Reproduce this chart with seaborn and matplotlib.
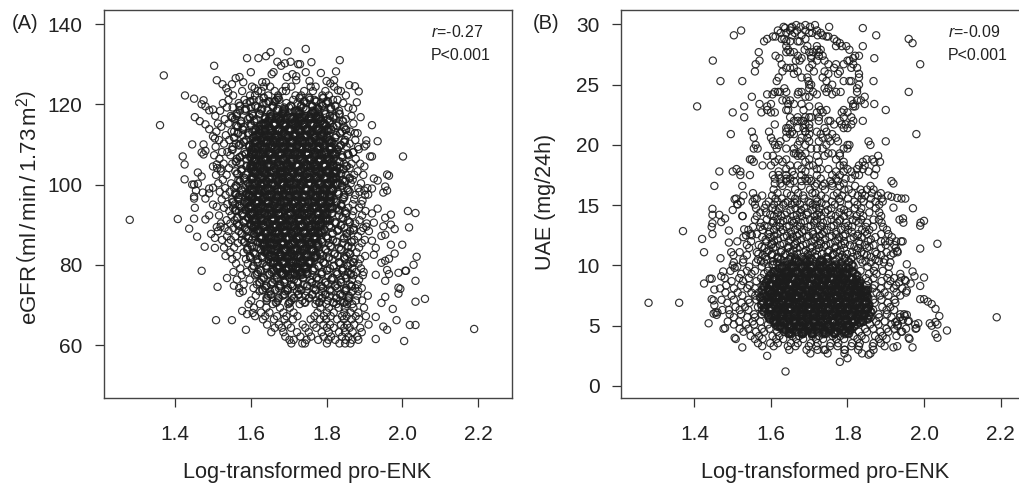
import matplotlib
matplotlib.use("Agg")
import matplotlib.pyplot as plt
import seaborn as sns
import pandas as pd

sns.set_theme(style="white")
plt.rcParams["font.family"] = ["Liberation Sans", "DejaVu Sans"]
plt.rcParams["mathtext.fontset"] = "custom"
plt.rcParams["mathtext.rm"] = "Liberation Sans"
plt.rcParams["mathtext.it"] = "Liberation Sans:italic"

XTICKS = [1.4, 1.6, 1.8, 2.0, 2.2]
EGFR_TICKS = [60, 80, 100, 120, 140]
UAE_TICKS = [0, 5, 10, 15, 20, 25, 30]
XLABEL = "Log-transformed pro-ENK"

# individually read outlying points, panel A
egfr_edge_x = [1.28,1.36,1.37,1.407,1.42,1.425,1.425,1.426,1.437,1.445,1.45,1.452,1.458,1.47,1.478,1.505,1.46,1.47,1.445,1.45,1.46,1.455,1.45,1.45,1.452,1.473,1.48,1.49,1.49,1.50,1.45,1.48,1.49,1.50,1.51,1.495,1.505,1.51,1.52,1.475,1.47,1.48,1.49,1.50,1.48,1.465,1.47,1.475,1.49,1.50,1.505,1.475,1.48,1.50,1.51,1.52,
 1.745,1.697,1.652,1.64,1.62,1.59,1.835,1.67,1.69,1.705,1.68,1.725,1.73,1.76,1.503,1.60,1.745,1.785,1.825,1.655,1.66,1.71,1.695,1.72,1.56,1.57,1.58,1.51,1.525,1.55,1.535,1.54,1.61,1.63,1.64,1.72,1.755,1.80,1.81,1.82,1.86,1.875,1.885,1.83,1.88,1.87,1.89,1.92,1.882,1.875,1.905,1.905,1.935,1.90,1.885,1.87,1.915,1.92,1.90,2.002,1.96,1.965,1.925,1.935,1.955,1.92,1.96,1.95,1.90,1.91,1.895,2.015,2.035,1.935,1.92,1.97,1.955,1.97,1.98,2.018,1.95,1.925,1.905,1.955,1.945,1.92,1.93,1.97,2.0,1.925,1.98,1.965,1.955,1.945,2.038,2.03,2.01,2.008,1.99,1.96,1.965,1.93,1.955,2.035,1.99,1.995,1.99,1.955,1.945,2.035,2.06,1.975,1.985,1.93,2.02,2.035,1.95,1.96,2.19,2.005,1.93,1.55,1.577,1.59,1.605,1.508,1.512,1.537,1.555,1.57,1.587]
egfr_edge_y = [91.2,114.8,127.2,91.4,107,105,101.3,122.2,89,110,121.4,116.8,87,78.5,84.5,84.2,103,102,100,100,100.2,98.5,97,96.5,94.2,98,96.5,99,97.8,99.2,91.5,91.3,92.3,95,94.5,87.7,86.7,89.4,89.5,121,120,119.5,118.5,118.7,115,115.8,108,110,113.8,112,111.5,107.5,108.4,104.5,105,104,
 133.8,133.2,133,132,131.5,131.5,131,130.6,130.2,130.6,129.6,130,130,130.5,129.6,128,128,127.8,128.2,127.5,128,127.5,126.8,127,126.5,126.8,125.5,126,125,125,124,123,124,125.5,125.5,126,125.8,125.8,125.2,126,124.8,124.5,123.2,123.5,120.5,118.9,116.8,114.8,112.8,112.8,111,110,110.8,109.5,108.8,108,107,107,104.5,107,102.5,102.2,101.5,101,99.5,99,98.5,98,98.5,97.5,96,93.4,92.9,94,92.8,92.5,91.7,90,88.9,89.3,89.6,90.5,89.5,87.5,87.2,86,84.2,85,85,82.5,82.8,81.5,81,80.5,82,80,78.5,78.5,78,78.7,77.7,77.5,76,76,74.3,74,72.8,72,70.5,70.8,71.5,69,66.2,67,65,65,64.6,63.8,64,61,61.5,66.2,68.5,67.7,68,66.2,74.5,76.7,74.8,73,63.8]

# rows of pro-ENK (x-1, in thousandths) read at each eGFR level, panel A
egfr_rows = {
 124.4:[603,634,651,692,707,758,771,820],
 123.3:[577,619,628,663,684,693,741,764,797,838],
 122.2:[553,598,611,646,672,718,733,789,806,851],
 121.1:[541,583,607,622,668,675,712,756,768,817,829],
 120.3:[526,568,589,633,641,694,723,747,785,798,844],
 119.2:[537,552,601,618,659,688,701,739,776,812,858],
 118.4:[519,571,584,627,644,669,716,728,763,794,833],
 117.1:[506,547,563,606,653,681,697,744,771,809,824,866],
 116.3:[531,558,592,615,638,674,709,752,781,803,851],
 115.2:[513,541,574,599,631,662,687,726,758,795,832,871],
 114.4:[522,566,581,623,648,691,719,739,774,818,846],
 113.2:[509,549,556,604,637,673,682,733,766,787,841,863],
 112.3:[534,578,594,612,655,699,711,749,782,826,855],
 111.1:[516,543,587,627,643,668,722,737,772,808,849,876],
 110.2:[529,561,573,606,651,678,703,754,790,819,861],
 109.4:[507,552,596,618,664,689,728,761,784,833,853,883],
 108.1:[524,538,583,609,634,695,716,747,799,827,871],
 107.3:[503,546,577,621,657,672,713,768,781,841,858],
 106.4:[517,563,589,603,641,685,731,752,806,819,877],
 105.2:[528,551,572,616,646,694,708,763,792,846,866,889],
 104.1:[511,542,598,627,661,679,738,757,811,834,861],
 103.3:[521,559,575,608,652,691,724,772,798,825,882],
 102.4:[508,536,587,619,636,683,706,744,787,851,873,897],
 101.2:[526,567,581,602,648,674,733,766,818,843,869],
 100.3:[514,548,593,626,659,697,719,753,801,836,864,891],
 99.1:[532,556,585,613,643,688,729,774,795,854,884,908],
 98.2:[518,544,579,607,635,671,712,758,808,829,861,887],
 97.4:[533,562,571,596,654,684,702,741,783,847,876,902],
 96.3:[523,551,567,604,629,666,723,769,793,819,843,873],
 95.1:[538,558,582,617,647,679,711,737,786,838,869,892],
 94.2:[529,553,574,594,638,693,706,762,805,827,858,886],
 93.4:[543,561,569,609,622,668,719,748,779,849,871,903],
 92.3:[516,549,578,601,644,674,697,735,792,833,868,894],
 91.1:[536,557,586,613,656,681,726,771,809,856,887],
 90.3:[521,546,563,599,628,649,703,742,783,824,876,906],
 89.2:[531,554,584,606,661,677,716,756,812,847,871,897],
 88.4:[513,541,568,593,623,657,692,731,778,828,862,891,912],
 87.1:[537,559,588,612,646,683,709,767,799,854,883],
 86.2:[524,547,576,603,639,664,721,753,786,817,873,901],
 85.4:[541,566,597,624,651,688,733,761,806,842,893],
 84.3:[529,556,591,616,642,676,697,748,779,833,866,886],
 83.1:[546,581,607,636,672,703,729,771,803,858,879],
 82.2:[533,563,598,629,663,691,714,758,791,829,853,902],
 81.4:[551,587,618,647,678,697,738,784,816,848,874,889],
 80.3:[561,592,631,659,686,723,752,796,836,863,884],
 79.1:[572,603,641,669,701,711,768,809,844,868,891],
 78.2:[554,589,619,655,677,732,746,788,826,857,878,898],
 77.4:[576,611,644,668,699,721,763,804,849,871,896],
 76.3:[563,597,628,662,691,714,757,779,812,838,867,886],
 75.1:[581,616,653,678,706,739,773,803,829,861,882],
 74.2:[569,607,638,674,698,727,766,791,828,852,876,893],
 73.4:[579,623,651,691,722,747,787,813,848,869,884],
 72.3:[613,646,684,709,744,781,808,842,859,881,909],
 71.1:[601,642,671,707,736,774,803,836,857,878,894],
 70.2:[594,624,658,699,729,771,799,826,854,868],
 69.3:[608,641,677,703,784,806,832,848,871,899],
 68.1:[627,649,686,713,776,801,819,847,863,884],
 67.2:[611,638,669,694,723,768,793,811,841,853,877,904],
 66.4:[632,661,689,711,758,783,799,828,846,866,886],
 65.1:[643,674,697,737,766,792,809,838,854,873,911],
 64.3:[663,682,706,744,773,801,819,847,861,889],
 63.2:[654,686,722,753,787,806,833,849,869,893],
 62.1:[691,731,759,792,812,841,858,881],
 61.3:[702,713,747,778,805,823,851,868,884],
 60.4:[707,736,743,801,834,849,863],
}
# dense part of the cloud
egfr_core_rows = {
 121.6:[634,672,729,754,791],120.7:[598,647,663,741,772,803],119.6:[571,612,658,706,733,762,789,823],118.8:[586,629,671,689,746,778,811],
 117.6:[563,604,623,652,684,728,759,797,834],116.7:[551,597,638,667,704,741,773,818],115.8:[574,609,646,678,716,733,785,808,843],114.7:[562,601,627,661,693,724,766,799,827],
 113.7:[579,613,638,672,706,746,778,812,851],112.8:[566,593,624,652,687,719,757,793,836],111.7:[556,607,633,664,698,731,769,802,823],110.6:[582,611,642,677,709,744,781,814,847],
 109.8:[569,596,626,657,691,722,763,791,838],108.7:[551,603,631,669,703,736,776,809,829],107.6:[586,614,648,682,716,752,787,824,856],106.8:[571,599,636,661,694,729,767,802,842],
 105.7:[561,608,628,673,707,741,779,813,834],104.6:[589,617,643,687,721,758,796,827,853],103.8:[576,602,634,666,699,733,771,806,845],102.7:[564,611,639,678,713,748,784,819,838],
 101.6:[583,606,649,684,724,756,793,826,861],100.8:[571,619,641,671,704,738,778,812,849],99.7:[561,597,627,663,696,731,769,803,841],98.6:[576,609,638,681,712,746,783,817,857],
 97.7:[559,588,621,654,689,723,759,794,832],96.8:[567,603,633,668,701,737,772,808,846],95.6:[552,584,614,646,679,716,751,788,826],94.7:[571,598,628,661,694,728,767,801,839],
 93.6:[559,587,619,651,688,721,757,792,833],92.8:[578,606,637,673,706,741,778,814,852],91.7:[564,593,626,658,691,727,763,799,843],90.6:[581,612,643,679,711,747,786,823,861],
 89.8:[568,601,633,668,698,736,771,808,838],88.7:[588,619,652,687,722,758,794,831,872],87.8:[576,609,641,674,708,743,779,816,853],86.6:[594,627,661,693,729,767,803,846],
 85.7:[583,618,648,682,716,751,789,827,866],84.6:[603,634,669,701,737,776,811,857],83.8:[591,626,654,689,723,761,798,838],82.7:[611,643,677,709,746,783,821,862],
 81.8:[599,631,664,697,731,769,806,847],80.6:[618,652,686,719,754,792,833,871],79.7:[607,641,674,708,741,779,819,856],78.6:[626,661,693,727,764,801,842],
 77.7:[616,649,683,716,749,787,828,864],76.7:[634,669,703,738,774,816,852],75.6:[623,657,689,724,761,797,838],74.7:[641,677,711,749,786,823,866],
 73.7:[631,664,697,733,771,809,851],72.6:[653,689,726,762,797,836],71.7:[642,673,714,754,788,826,858],70.6:[667,702,743,781,818,846],
}
# solid black centre of panel A
egfr_solid_rows = {
 118.1:[687,722,768],116.6:[652,676,709,733,757,781],115.1:[637,663,688,714,739,761,792],113.6:[624,651,674,701,727,748,776,803],
 112.2:[618,644,669,692,716,743,767,789],110.7:[613,637,662,686,709,733,758,784,808],109.2:[608,634,656,683,706,731,752,779,811],107.7:[604,629,653,677,702,726,749,773,797,818],
 106.2:[611,636,659,684,708,734,757,782,806],104.7:[602,627,651,676,699,724,748,771,795,816],103.2:[609,633,658,681,707,729,754,779,803,824],101.7:[604,628,654,678,701,727,751,774,798,819],
 100.2:[607,631,656,683,705,732,756,781,804,827],98.7:[601,624,649,673,698,722,747,772,796,814],97.2:[596,621,646,671,694,719,743,768,791,811],95.7:[593,618,642,667,691,716,739,764,787,809],
 94.2:[597,623,648,672,697,721,746,769,793,813],92.7:[601,626,652,677,702,726,751,776,799],91.2:[606,631,657,681,704,729,753,778,801],89.7:[611,636,661,686,711,734,759,782],
 88.2:[617,642,667,691,716,741,766,787],86.7:[626,651,674,699,723,748,771],85.2:[634,658,683,708,731,757,776],83.7:[641,666,691,714,739,763],
 82.2:[652,677,702,726,748,771],80.7:[661,686,709,733,757],79.2:[671,697,721,746],77.7:[683,708,733],
}

# individually read points, panel B
uae_edge_x = [1.28,1.36,1.37,1.407,1.42,1.425,1.425,1.437,1.445,1.45,1.45,1.452,1.455,1.46,1.465,1.447,1.447,1.447,1.447,1.445,1.47,1.48,1.49,1.49,1.50,1.505,1.512,1.525,1.53,1.535,1.55,1.44,1.445,1.452,1.458,1.468,1.47,1.475,1.48,1.49,1.50,1.505,1.505,1.525,1.59,1.638,1.78,1.80,1.855,1.86,1.97,1.92,1.93,1.96,2.19,2.06,2.035,2.03,2.035,2.03,2.04,2.03,2.02,2.01,2.0,1.99,2.015,2.02,1.98,1.985,1.96,1.955,1.95,1.945,1.93,1.925,1.94,1.955,1.965,1.975,1.99,2.0,2.035,1.99,1.94,1.95,1.935,1.955,1.97,1.99,2.0,1.945,1.92,1.915,1.93,1.94,1.93,1.92,1.91,1.90]
uae_edge_y = [6.9,6.9,12.85,23.2,12.2,11.1,8.5,5.2,8.9,6,7.1,6.7,6.1,6.1,14.2,14.7,14.2,13.5,12.6,13.2,13.6,13.9,12.9,11.9,14.6,15.5,15.1,14.1,13,12.5,12.5,8.9,7.2,8,5.9,10.6,9.1,9.5,4.8,6.3,10,9.8,4,3.2,2.5,1.2,2,2.3,2.6,2.7,3.2,3.2,3.3,4,5.7,4.6,4,4.3,5.1,5.3,5.8,6.4,6.8,7,7.2,7.2,5.2,5,4.8,5.2,5.4,5.9,5.8,5.5,5,5.3,4.5,7.9,8.5,9.1,8.3,9,11.8,11.4,9,8.8,8.6,10.1,9.5,13.3,13.7,13.9,14.8,15.7,15.6,12,11.2,11,12,11.7]

# upper cloud: (y level, pro-ENK x-1 in thousandths)
uae_rows = {
 29.95:[666,690,715],29.8:[633,655,677,702,752],29.7:[637,652,840],29.5:[522,618,650,668,690,720],29.3:[625,640,662,700,708,730],
 29.1:[503,735,875,655,680,722],29.0:[605,612,745,750],28.8:[590,628,635,690,765,960],28.6:[582,640,650,670,772,675],28.45:[970,780],
 28.2:[640,695,720,770,785,797,840],27.9:[645,688,720,730,805],27.7:[568,640,660,650,700,710,725],27.4:[612,670,705,725,735,830,820],
 27.2:[622,680,705,815,870],27.0:[448,570,665,675,720,740,805,800],26.7:[628,560,708,750,790,815,770,990],26.4:[640,650,660,700,765,825,810],
 26.1:[558,630,670,712,740,780],25.9:[660,750,775,830],25.6:[620,680,695,735,830],25.3:[468,525,615,698,745,790,805,868,810],
 25.0:[700,705,760,830],24.7:[635,700,740,825,750],24.4:[610,618,624,640,672,680,710,745,770,960,782,825],24.2:[590,604,670,720,760],
 24.0:[550,700,690,845],23.7:[630,640,650,810,835,825],23.4:[570,600,660,645,680,815,845,870],23.2:[530,590,700,725,820,815],
 22.9:[640,645,685,730,745,790,900,590],22.7:[500,575,600,610,720,735,785,800],22.3:[530,650,700,705,790,810,690,725,670],
 22.0:[660,670,680,685,725,750,780,815,840,755],21.7:[610,650,690,700,765,785,795,810],21.4:[640,645,670,685,700,790,740,800],21.1:[595,550,640,655,690,720,745,690],
 20.9:[495,650,660,700,730,760,980],20.6:[555,600,640,680,695,735,770,750],20.3:[605,625,675,700,725,755,775,855,900],20.0:[560,610,620,670,690,745,805,860,800],
 19.7:[555,565,615,640,660,705,720,735,790,800],19.3:[660,665,675,690,750,760,780],19.1:[590,605,670,680,720,740,780,880],18.8:[545,550,620,640,700,770,850,865],
 18.6:[555,610,630,690,725,790,840,870,885],18.3:[578,600,650,670,700,710,780,790,830,845],18.0:[510,640,680,720,730,750,800,825,840,875],
 17.8:[465,500,520,620,655,690,770,810,790,855],17.5:[520,545,605,620,640,660,680,720,760,780,820,830,870],17.2:[610,625,640,650,690,700,730,770,795,810],
 17.0:[640,660,680,695,705,755,775,915],16.8:[610,625,650,720,740,760,790,920],16.6:[452,525,630,680,715,735,760,780,820,860],16.3:[607,663,702,741,792,803,834,851,868],
 16.0:[553,617,642,671,708,716,773,812,838,864,887],15.8:[528,577,603,652,684,731,764,786,827,846,879,906],15.55:[509,557,563,612,628,663,687,719,743,778,801,837,861,889,941,951],
 15.3:[521,552,594,617,644,668,698,721,759,781,818,842,873,892],15.05:[513,558,587,608,632,654,676,709,717,744,767,803,826,858,883],14.75:[561,583,604,622,664,687,718,727,758,782,819,836,874,971],
 14.4:[572,587,618,641,677,696,726,742,779,801,833,857,883],14.1:[526,563,608,627,659,681,714,731,769,791,824,841,888],13.8:[558,589,617,643,666,702,721,758,781,814,836,868,882,936],
 13.55:[573,604,624,659,678,713,736,773,796,829,851,889,946,991],13.2:[553,572,592,623,641,676,697,733,757,793,812,848,867,893],12.95:[541,578,608,631,663,686,724,746,783,802,838,857,903],
 12.6:[547,563,594,617,654,674,711,734,771,794,828,851,888,907],12.35:[528,577,597,633,657,693,717,753,778,816,837,873,916],12.0:[512,548,588,608,646,668,706,728,768,791,829,854,888,898,927,944],
 11.7:[537,568,601,624,661,684,722,744,784,806,846,868,922],11.45:[543,583,606,644,667,703,726,766,791,828,851,888,926],11.1:[496,518,563,589,626,649,686,708,748,772,812,836,873,902,931],
 10.85:[502,537,578,601,639,661,699,721,761,786,826,851,888,913],10.5:[528,566,588,626,648,686,708,746,771,809,834,873,897],
}
# extra rows for the grey middle of panel B
uae_mid_rows = {
 15.2:[638,662,703,732],14.6:[612,651,679,708,749,791],14.2:[598,636,668,693,721,757,806],13.7:[606,632,655,688,714,747,779,823],13.3:[583,614,648,669,704,729,764,802],
 12.8:[597,626,652,681,709,738,771,811,846],12.45:[608,642,668,699,727,759,789,826],12.15:[586,618,651,679,714,741,776,808,861],11.8:[603,633,664,693,731,756,793,832],11.55:[576,612,646,676,708,739,769,818,857],
 11.25:[594,628,658,691,718,752,781,824],10.95:[567,603,637,669,696,733,763,799,843,876],10.7:[586,617,651,681,716,744,778,814,862],10.35:[574,606,641,673,701,737,768,803,847,882],
}
# dense lower cloud rows, panel B
uae_low_rows = {
 10.25:[503,527,561,582,616,637,671,692,727,749,784,804,839,861,895,912],9.9:[512,543,576,594,629,648,684,703,739,761,796,816,852,872,908],
 9.55:[494,537,558,592,611,646,666,701,721,757,779,813,834,869,892],9.3:[522,549,582,601,634,653,688,708,743,764,799,821,856,876,908,938],
 8.95:[479,517,542,574,592,626,645,681,699,736,756,792,812,848,868,904,922],8.7:[497,527,562,581,614,632,667,686,722,741,778,798,834,854,889,912,952],
 8.35:[483,522,544,578,596,631,648,683,702,738,758,794,814,850,871,906,927],8.1:[467,503,538,558,592,611,644,663,698,718,754,774,809,831,866,887,921,943],
 7.75:[481,513,549,568,602,621,654,673,708,728,763,785,819,841,876,897,928,953],7.5:[497,525,559,578,612,631,664,684,717,738,773,794,829,851,885,907,938],
 7.15:[471,503,541,562,596,614,647,667,701,721,756,776,811,833,867,889,923],6.9:[486,523,544,579,598,632,651,684,703,738,758,793,814,849,871,905,925],
 6.55:[507,532,566,586,620,638,672,690,725,744,779,801,836,856,891,912],6.3:[473,518,541,576,596,630,648,682,701,735,754,789,811,846,867,902,922],
 5.95:[492,522,556,576,612,631,664,683,716,735,770,791,826,847,881,903,938,948],5.7:[503,538,558,593,613,646,665,698,717,751,771,806,827,861,883,915,937],
 5.35:[487,517,552,572,606,624,658,677,710,729,764,785,820,841,875,897,929,958],5.1:[503,535,556,592,611,644,663,696,715,749,769,804,825,859,881,915,932,977],
 4.75:[476,518,541,576,596,630,648,682,700,735,754,790,811,846,867,902,922,953,978],4.5:[528,561,582,616,634,668,687,720,739,774,795,830,851,886,907,943],
 4.15:[547,569,604,622,656,674,708,726,761,781,816,837,872,892,928],3.9:[508,558,578,614,632,666,684,718,736,771,791,826,847,882,902,962],
 3.55:[566,598,618,652,670,704,722,756,776,812,832,868,887],3.3:[577,607,644,664,699,718,754,774,810,830,866,897],
 3.0:[648,693,722,738,742,793,792,828,868],2.7:[703,748,792,838],
}
uae_core_rows = {
 10.6:[618,664,703,748,793],10.05:[605,643,688,727,769,812],9.75:[622,653,679,704,729,753,778,804],9.45:[607,638,657,688,707,738,757,788,813],9.15:[597,628,647,678,697,728,747,778,797,825],
 8.85:[592,623,642,673,692,723,742,773,792,823],8.55:[587,618,637,668,687,718,737,768,787,818,832],8.25:[582,613,632,663,682,713,732,763,782,813,832],7.95:[577,608,627,658,677,708,727,758,777,808,827,853],
 7.65:[581,600,631,650,681,700,731,750,781,800,831,849],7.35:[572,603,622,653,672,703,722,753,772,803,822,853],7.05:[578,597,628,647,678,697,728,747,778,797,828,847],6.75:[575,606,625,656,675,706,725,756,775,806,825,856],
 6.45:[583,602,633,652,683,702,733,752,783,802,833,852],6.15:[582,613,632,663,682,713,732,763,782,813,832,861],5.85:[593,612,643,662,693,712,743,762,793,812,843,857],5.55:[597,628,647,678,697,728,747,778,797,828,853],
 5.25:[613,632,663,682,713,732,763,782,813,832],4.95:[617,648,667,698,717,748,767,798,817],4.65:[638,657,688,707,738,757,788,807],4.35:[647,683,707,743,767,803],
}
# solid black centre of panel B
uae_solid_rows = {
 10.4:[664,692,731],9.9:[632,657,681,708,733,761,786],9.4:[618,643,668,694,719,746,771,797],8.9:[607,633,659,684,709,736,762,787,812],8.4:[602,627,652,678,703,729,754,779,806,828],
 7.9:[596,621,648,672,698,723,749,774,801,826,846],7.4:[591,617,643,669,694,719,744,771,796,821,844],6.9:[594,619,646,671,697,722,747,773,799,824,847],6.4:[598,624,649,676,701,726,752,778,803,829,851],
 5.9:[603,629,654,681,706,731,757,783,808,834],5.4:[611,637,662,688,713,739,764,791,816,838],4.9:[626,651,676,703,727,754,779,804],4.4:[651,682,709,737,766,793],
}


def rows_frame(rows, name):
    xs, ys = [], []
    for level, values in rows.items():
        for v in values:
            xs.append(1 + v / 1000)
            ys.append(level)
    return pd.DataFrame({"enk": xs, name: ys})


def edge_frame(xs, ys, name):
    return pd.DataFrame({"enk": xs, name: ys})


def cloud(ax, frame, name, lw):
    sns.scatterplot(data=frame, x="enk", y=name, ax=ax, s=27, marker="o",
                    facecolor="none", edgecolor="#1c1c1c", linewidth=lw,
                    alpha=0.9, legend=False, clip_on=True)


W, H = 1019, 483
fig = plt.figure(figsize=(W / 100, H / 100), dpi=100, facecolor="white")


def box(l, r, t, b):
    return [l / W, 1 - b / H, (r - l) / W, (b - t) / H]


ax_a = fig.add_axes(box(104, 512, 10, 398))
ax_b = fig.add_axes(box(621, 1030, 10, 398))

a_sparse = pd.concat([edge_frame(egfr_edge_x, egfr_edge_y, "egfr"), rows_frame(egfr_rows, "egfr")])
cloud(ax_a, a_sparse, "egfr", 0.85)
cloud(ax_a, rows_frame(egfr_core_rows, "egfr"), "egfr", 1.35)
cloud(ax_a, rows_frame(egfr_solid_rows, "egfr"), "egfr", 2.6)
b_sparse = pd.concat([edge_frame(uae_edge_x, uae_edge_y, "uae"), rows_frame(uae_rows, "uae"),
                      rows_frame(uae_mid_rows, "uae"), rows_frame(uae_low_rows, "uae")])
cloud(ax_b, b_sparse, "uae", 0.85)
cloud(ax_b, rows_frame(uae_core_rows, "uae"), "uae", 1.6)
cloud(ax_b, rows_frame(uae_solid_rows, "uae"), "uae", 2.6)

ax_a.set_xlim(1.212, 2.290)
ax_a.set_ylim(46.8, 143.5)
ax_a.set_yticks(EGFR_TICKS)
ax_b.set_xlim(1.208, 2.277)
ax_b.set_ylim(-1.0, 31.2)
ax_b.set_yticks(UAE_TICKS)

for ax in (ax_a, ax_b):
    ax.set_xticks(XTICKS)
    ax.set_xticklabels([f"{t:.1f}" for t in XTICKS])
    ax.tick_params(axis="both", direction="out", length=6.5, width=0.9, color="#333333",
                   labelsize=15, labelcolor="#222222", left=True, bottom=True)
    ax.tick_params(axis="x", pad=13)
    ax.tick_params(axis="y", pad=9)
    for s in ax.spines.values():
        s.set_linewidth(1.0)
        s.set_color("#444444")
    ax.set_xlabel("")
    ax.set_ylabel("")

fig.text(307.5 / W, 1 - 478 / H, XLABEL, ha="center", va="baseline", fontsize=15.7, color="#222222")
fig.text(825 / W, 1 - 478 / H, XLABEL, ha="center", va="baseline", fontsize=15.7, color="#222222")
fig.text(29 / W, 1 - 208 / H, r"eGFR$\,\left(\mathrm{ml\,/\,min\,/\,1.73\,m^2}\right)$", rotation=90,
         ha="center", va="center", fontsize=16, color="#222222")
fig.text(545 / W, 1 - 202 / H, "UAE (mg/24h)", rotation=90, ha="center", va="center",
         fontsize=15.5, color="#222222")
fig.text(12 / W, 1 - 29 / H, "(A)", fontsize=14.5, color="#222222")
fig.text(533 / W, 1 - 29 / H, "(B)", fontsize=14.5, color="#222222")
fig.text(431 / W, 1 - 37 / H, r"$\mathit{r}$=-0.27", fontsize=11.5, color="#222222")
fig.text(431 / W, 1 - 60 / H, "P<0.001", fontsize=11.5, color="#222222")
fig.text(948 / W, 1 - 37 / H, r"$\mathit{r}$=-0.09", fontsize=11.5, color="#222222")
fig.text(948 / W, 1 - 60 / H, "P<0.001", fontsize=11.5, color="#222222")

fig.savefig("out.png", dpi=100)
